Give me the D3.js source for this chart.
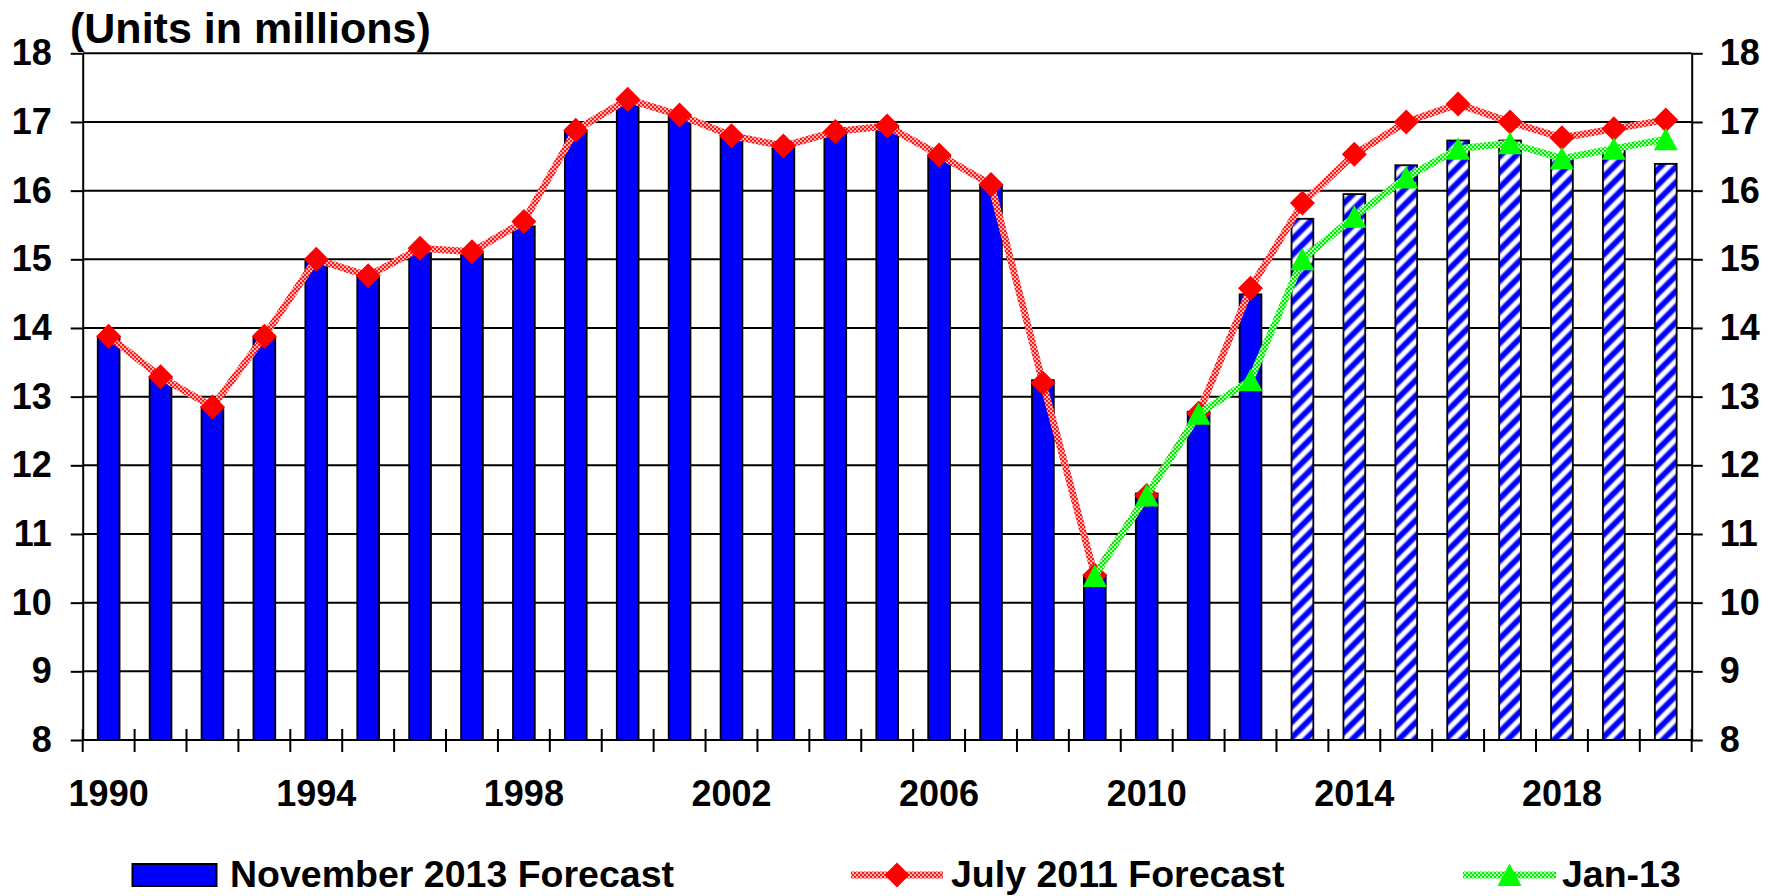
<!DOCTYPE html>
<html>
<head>
<meta charset="utf-8">
<script src="https://cdn.jsdelivr.net/npm/d3@7"></script>
<style>
  html, body { margin: 0; padding: 0; background: #fff; }
  svg { display: block; }
  text { font-family: "Liberation Sans", Arial, sans-serif; font-weight: bold; fill: #000; }
</style>
</head>
<body>
<svg id="chart" width="1779" height="896"></svg>
<script>
// ---- data (millions of units) ----
const years = [1990, 1991, 1992, 1993, 1994, 1995, 1996, 1997, 1998, 1999,
               2000, 2001, 2002, 2003, 2004, 2005, 2006, 2007, 2008, 2009,
               2010, 2011, 2012, 2013, 2014, 2015, 2016, 2017, 2018, 2019, 2020];

const nov2013Forecast = [13.87, 13.27, 12.85, 13.87, 14.98, 14.75, 15.12, 15.08, 15.48, 16.86,
                         17.27, 17.08, 16.80, 16.62, 16.85, 16.92, 16.50, 16.08, 13.24, 10.40,
                         11.59, 12.78, 14.49, 15.59, 15.95, 16.37, 16.73, 16.73, 16.50, 16.60, 16.39];

const july2011Forecast = [13.88, 13.29, 12.85, 13.88, 15.00, 14.76, 15.16, 15.11, 15.55, 16.88,
                          17.33, 17.10, 16.80, 16.65, 16.86, 16.94, 16.52, 16.09, 13.20, 10.40,
                          11.56, 12.76, 14.58, 15.82, 16.53, 17.00, 17.26, 17.00, 16.77, 16.90, 17.03];

const jan13 = [null, null, null, null, null, null, null, null, null, null,
               null, null, null, null, null, null, null, null, null, 10.39,
               11.56, 12.75, 13.24, 15.00, 15.62, 16.19, 16.61, 16.69, 16.47, 16.61, 16.75];

const firstForecastYear = 2013;           // bars from this year on are hatched
const yTicks = [8, 9, 10, 11, 12, 13, 14, 15, 16, 17, 18];
const xTickLabels = [1990, 1994, 1998, 2002, 2006, 2010, 2014, 2018];
const seriesNames = ["November 2013 Forecast", "July 2011 Forecast", "Jan-13"];
const chartTitle = "(Units in millions)";

// ---- layout ----
const M = { left: 82.7, right: 1691.7, top: 53.3, bottom: 740 };
const svg = d3.select("#chart");

const x = d3.scaleBand().domain(years).range([M.left, M.right]).padding(0);
const y = d3.scaleLinear().domain([8, 18]).range([M.bottom, M.top]);
const bw = x.bandwidth();
const barW = bw * 0.42;
const cx = yr => x(yr) + bw / 2;

// ---- patterns ----
const defs = svg.append("defs");

const hatch = defs.append("pattern")
  .attr("id", "hatch").attr("patternUnits", "userSpaceOnUse")
  .attr("width", 11).attr("height", 11)
  .attr("patternTransform", "rotate(45)");
hatch.append("rect").attr("width", 11).attr("height", 11).attr("fill", "#fff");
hatch.append("rect").attr("x", 1.5).attr("width", 7).attr("height", 11).attr("fill", "#9a9aff");
hatch.append("rect").attr("x", 2.5).attr("width", 5).attr("height", 11).attr("fill", "#0000ff");

function checker(id, base, light) {
  const p = defs.append("pattern")
    .attr("id", id).attr("patternUnits", "userSpaceOnUse")
    .attr("width", 4).attr("height", 4);
  p.append("rect").attr("width", 4).attr("height", 4).attr("fill", base);
  p.append("rect").attr("width", 2).attr("height", 2).attr("fill", light);
  p.append("rect").attr("x", 2).attr("y", 2).attr("width", 2).attr("height", 2).attr("fill", light);
}
checker("redTex", "#ff1a1a", "#ffb0b0");
checker("greenTex", "#00ee00", "#b0ffb0");

// ---- gridlines ----
svg.append("g").selectAll("line").data(yTicks).join("line")
  .attr("x1", M.left).attr("x2", M.right)
  .attr("y1", d => y(d)).attr("y2", d => y(d))
  .attr("stroke", "#000").attr("stroke-width", 2);

// ---- y axes ----
const axL = svg.append("g").attr("transform", `translate(${M.left},0)`)
  .call(d3.axisLeft(y).tickValues(yTicks).tickSize(12).tickSizeOuter(0).tickPadding(19));
const axR = svg.append("g").attr("transform", `translate(${M.right},0)`)
  .call(d3.axisRight(y).tickValues(yTicks).tickSize(11).tickSizeOuter(0).tickPadding(17));
[axL, axR].forEach(g => {
  g.selectAll("path.domain").attr("stroke", "#000").attr("stroke-width", 2);
  g.selectAll(".tick line").attr("stroke", "#000").attr("stroke-width", 2);
  g.selectAll(".tick text").attr("font-size", 36).attr("font-family", null)
    .attr("fill", "#000");
});

// ---- bars ----
svg.append("g").selectAll("rect").data(years).join("rect")
  .attr("x", (d) => x(d) + (bw - barW) / 2)
  .attr("width", barW)
  .attr("y", (d, i) => y(nov2013Forecast[i]))
  .attr("height", (d, i) => y(8) - y(nov2013Forecast[i]))
  .attr("fill", d => d >= firstForecastYear ? "url(#hatch)" : "#0000ff")
  .attr("stroke", "#000").attr("stroke-width", 1.8);

// ---- x axis ----
const xAxisG = svg.append("g");
xAxisG.append("line")
  .attr("x1", M.left).attr("x2", M.right).attr("y1", M.bottom).attr("y2", M.bottom)
  .attr("stroke", "#000").attr("stroke-width", 2);
const bounds = years.map(d => x(d)).concat([M.right]);
xAxisG.selectAll("line.tk").data(bounds).join("line").attr("class", "tk")
  .attr("x1", d => d).attr("x2", d => d)
  .attr("y1", M.bottom - 11).attr("y2", M.bottom + 12)
  .attr("stroke", "#000").attr("stroke-width", 2);
xAxisG.selectAll("text").data(xTickLabels).join("text")
  .attr("x", d => cx(d)).attr("y", 806)
  .attr("text-anchor", "middle").attr("font-size", 36)
  .text(d => d);

// ---- lines & markers ----
const lineGen = d3.line()
  .defined(d => d.v != null)
  .x(d => cx(d.yr)).y(d => y(d.v));

const julyPts = years.map((yr, i) => ({ yr, v: july2011Forecast[i] }));
const janPts = years.map((yr, i) => ({ yr, v: jan13[i] }));

const diamond = "M0,-12.5L12.5,0L0,12.5L-12.5,0Z";
const triangle = "M0,-11.5L12,11L-12,11Z";

svg.append("path").datum(julyPts)
  .attr("d", lineGen).attr("fill", "none")
  .attr("stroke", "url(#redTex)").attr("stroke-width", 7).attr("stroke-linejoin", "round");
svg.append("g").selectAll("path").data(julyPts.filter(d => d.v != null)).join("path")
  .attr("d", diamond)
  .attr("transform", d => `translate(${cx(d.yr)},${y(d.v)})`)
  .attr("fill", "#ff0000");

svg.append("path").datum(janPts)
  .attr("d", lineGen).attr("fill", "none")
  .attr("stroke", "url(#greenTex)").attr("stroke-width", 7).attr("stroke-linejoin", "round");
svg.append("g").selectAll("path").data(janPts.filter(d => d.v != null)).join("path")
  .attr("d", triangle)
  .attr("transform", d => `translate(${cx(d.yr)},${y(d.v)})`)
  .attr("fill", "#00ff00");

// ---- title ----
svg.append("text").attr("x", 70).attr("y", 43).attr("font-size", 43).text(chartTitle);

// ---- legend ----
const lg = svg.append("g");
const ly = 875;
const lty = 887;
lg.append("rect").attr("x", 132.5).attr("y", ly - 11).attr("width", 84).attr("height", 22)
  .attr("fill", "#0000ff").attr("stroke", "#000").attr("stroke-width", 2);
lg.append("text").attr("x", 230).attr("y", lty).attr("font-size", 37.5).text(seriesNames[0]);

lg.append("line").attr("x1", 851).attr("x2", 943).attr("y1", ly).attr("y2", ly)
  .attr("stroke", "url(#redTex)").attr("stroke-width", 7);
lg.append("path").attr("d", diamond).attr("transform", `translate(897,${ly})`).attr("fill", "#ff0000");
lg.append("text").attr("x", 951).attr("y", lty).attr("font-size", 37.5).text(seriesNames[1]);

lg.append("line").attr("x1", 1463).attr("x2", 1556).attr("y1", ly).attr("y2", ly)
  .attr("stroke", "url(#greenTex)").attr("stroke-width", 7);
lg.append("path").attr("d", triangle).attr("transform", `translate(1509.5,${ly})`).attr("fill", "#00ff00");
lg.append("text").attr("x", 1562).attr("y", lty).attr("font-size", 37.5).text(seriesNames[2]);
</script>
</body>
</html>
